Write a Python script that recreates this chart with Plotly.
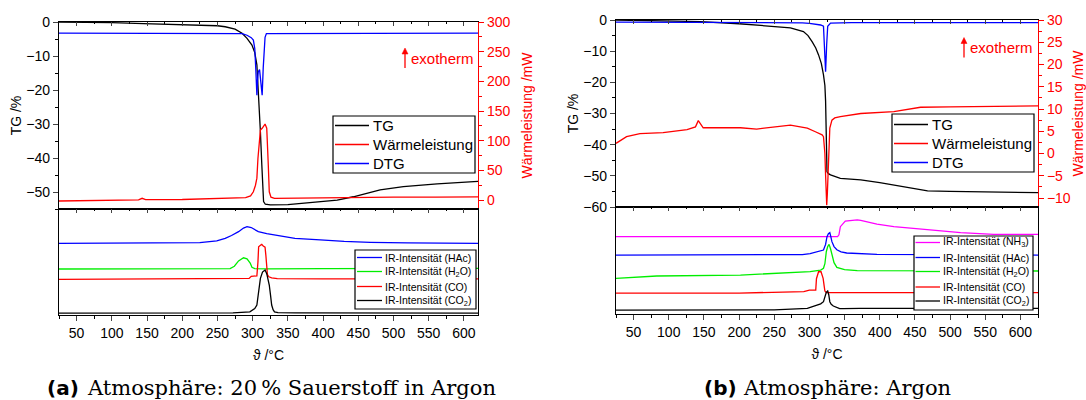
import plotly.graph_objects as go

# ---------------- (a) 20 % O2 in Ar : thermogravimetry ----------------
T_TG_A = [25, 50, 100, 145, 200, 250, 261, 275, 285, 292, 299, 303, 306, 308.5, 311, 313,
          315.5, 318, 325, 350, 372, 420, 443, 467, 481, 514, 562, 620]
TG_A = [0, -0.05, -0.2, -0.5, -0.7, -1.1, -1.4, -2.1, -3.3, -4.8, -6.8, -9.0, -12.6, -21, -32.3,
        -42, -52.8, -53.6, -53.8, -53.7, -53.3, -52.4, -51.4, -50.2, -49.4, -48.4, -47.6, -46.9]

T_HF_A = [25, 60, 100, 138, 143, 148, 200, 250, 275, 290, 297, 301, 304, 306, 307.5, 309, 311,
          313.5, 316, 317.6, 320, 321.2, 322.2, 323.6, 326, 331, 360, 400, 450, 500, 560, 620]
HF_A = [-1.5, -1.0, -0.5, 0.5, 3.0, 0.8, 1, 2, 2.8, 4, 7, 14, 25, 37, 70, 98, 118,
        121, 125, 128, 121, 95, 59, 14, 5, 3, 3.5, 4, 4.5, 5, 5, 5.5]

T_DTG_A = [25, 140, 144, 148, 250, 285, 292, 298, 301, 303, 304.5, 306, 307, 308, 309.8, 311,
           312, 313.5, 315, 317.6, 319.5, 350, 440, 460, 500, 620]
DTG_A = [-3.3, -3.3, -3.45, -3.3, -3.3, -3.4, -3.9, -4.6, -5.3, -7.8, -14, -21.5, -17, -14.6,
         -14, -16, -18, -21.5, -13.5, -4.5, -3.4, -3.4, -3.3, -3.2, -3.3, -3.3]

# (a) IR intensities (arbitrary units, stacked)
T_HAC_A = [25, 150, 225, 249, 261, 270, 280, 287, 292, 298, 308, 320, 332, 345, 360, 396, 430,
           467, 520, 620]
HAC_A = [67.6, 67.8, 68.2, 70, 72.3, 75, 78.6, 82, 83.3, 82.5, 78.6, 76.8, 75.5, 74, 72.3, 70.8,
         69.4, 68.6, 68, 67.6]

T_H2O_A = [25, 150, 268, 274, 280, 287, 292, 296.5, 299, 303, 320, 400, 620]
H2O_A = [43.4, 43.6, 43.8, 46, 51, 54, 53, 49, 45, 43.8, 43.6, 43.8, 44]

T_CO_A = [25, 150, 285, 295, 298, 306, 307.5, 308.5, 311.5, 313, 315, 317.6, 318.8, 319.8, 321,
          323, 327, 335, 400, 620]
CO_A = [33.7, 33.8, 34, 34.5, 36.5, 37, 50, 64.4, 66, 66.7, 65, 64, 56, 44, 38, 36, 35, 34.3,
        34, 34]

T_CO2_A = [25, 150, 272, 296, 303, 306, 308.5, 311, 314, 317.6, 320, 323.6, 325.5, 327, 329,
           331, 336, 360, 620]
CO2_A = [1.8, 1.8, 2, 3, 6, 9.4, 20, 34.6, 40.5, 42.5, 39, 28.3, 18, 9.4, 5, 3, 2.3, 2, 1.8]

# ---------------- (b) Ar : thermogravimetry ----------------
T_TG_B = [25, 100, 145, 200, 249, 273, 291.5, 298, 304, 309, 313, 317, 320, 322, 323, 324, 325,
          327, 330, 344, 373, 400, 420, 445, 468, 500, 539, 580, 625]
TG_B = [0, -0.2, -0.5, -1.2, -2.1, -2.5, -3.7, -5, -7, -9, -11.2, -14, -17.6, -21, -26, -38,
        -48.7, -49.3, -49.7, -50.8, -51.3, -52.2, -53, -54, -54.8, -55, -55.1, -55.3, -55.4]

T_HF_B = [25, 40, 59, 92, 126, 138, 142, 149, 202, 225, 273, 297, 308.5, 318, 320, 322, 323,
          324.6, 325.5, 326.5, 328, 329, 332, 336, 344, 358, 373, 420, 458, 500, 625]
HF_B = [2.3, 3.8, 4.5, 4.7, 5.4, 6.0, 7.4, 5.8, 5.8, 5.5, 6.4, 5.7, 4.9, 4.2, 3.8, 0, -4.8,
        -11.6, -9, -4.8, 2, 5.7, 7.5, 8, 8.3, 8.7, 9, 9.4, 10.4, 10.5, 10.7]

T_DTG_B = [25, 150, 250, 290, 300, 310, 316, 320, 321.5, 323, 324.5, 326, 330, 360, 450, 625]
DTG_B = [-0.7, -0.75, -0.8, -0.9, -1.1, -1.4, -1.6, -2, -8, -16.6, -8, -2, -1, -0.85, -0.85,
         -0.85]

# (b) IR intensities (arbitrary units, stacked)
T_NH3_B = [25, 200, 340, 342, 344, 351, 358, 368, 373, 396, 420, 468, 515, 562, 625]
NH3_B = [72.3, 72.3, 72.3, 74, 81.6, 86.9, 87.5, 87.9, 87.5, 84, 81.6, 79.1, 76, 74.5, 74.5]

T_HAC_B = [25, 200, 290, 301, 306, 316, 320, 323, 325, 327, 329, 330.5, 332, 335, 339, 345,
           353, 396, 625]
HAC_B = [55.1, 55.1, 55.5, 56.5, 57.5, 58.8, 59.8, 65, 72.3, 75, 76, 72, 67.6, 63, 60, 58, 57,
         55.8, 55.1]

T_H2O_B = [25, 83, 202, 287, 301, 316, 320, 322, 324, 326, 328, 330, 332, 335, 339, 350, 368,
           625]
H2O_B = [33.3, 35.5, 36.4, 38.6, 39.6, 41.1, 42.7, 47, 58.2, 63, 65.1, 61, 55, 48, 43.6, 41.5,
         40.5, 40.2]

T_CO_B = [25, 200, 292, 300, 306, 309, 310, 311.5, 313, 316.5, 318, 319.5, 321, 322, 324, 625]
CO_B = [19.5, 19.6, 20.9, 22.4, 22.4, 22.4, 33, 37, 39.5, 39.5, 37, 33.3, 26, 21.5, 20.1, 20.0]

T_CO2_B = [25, 150, 250, 297, 305, 311, 316, 320, 322, 324, 326, 327.5, 329, 331, 334, 337, 343,
           348, 372, 625]
CO2_B = [3.7, 3.7, 3.9, 5.3, 7, 8.4, 9.5, 11.5, 15, 20.3, 21.5, 18, 11.5, 9, 7.5, 6.5, 5, 5,
         5.3, 5.3]

X_TICKS = [50, 100, 150, 200, 250, 300, 350, 400, 450, 500, 550, 600]

NAME_TG = "TG"
NAME_HF = "Wärmeleistung"
NAME_DTG = "DTG"
IR = "IR-Intensität"
NAME_NH3 = f"{IR} (NH<sub>3</sub>)"
NAME_HAC = f"{IR} (HAc)"
NAME_H2O = f"{IR} (H<sub>2</sub>O)"
NAME_CO = f"{IR} (CO)"
NAME_CO2 = f"{IR} (CO<sub>2</sub>)"

BLACK, RED, BLUE, GREEN, MAGENTA = "#000000", "#ff0000", "#0000ff", "#00ee00", "#ff00ff"

W, H = 1086, 400
SANS = "Liberation Sans, Arial, sans-serif"


def fx(p):
    return p / W


def fy(p):
    return 1 - p / H


fig = go.Figure()


def line(x, y, color, xa, ya, name):
    fig.add_trace(go.Scatter(x=x, y=y, mode="lines", name=name, showlegend=False,
                             line=dict(color=color, width=1.3), xaxis=xa, yaxis=ya,
                             hoverinfo="skip"))


# panel (a)
line(T_TG_A, TG_A, BLACK, "x", "y", NAME_TG)
line(T_DTG_A, DTG_A, BLUE, "x", "y", NAME_DTG)
line(T_HF_A, HF_A, RED, "x", "y2", NAME_HF)
line(T_HAC_A, HAC_A, BLUE, "x2", "y3", NAME_HAC)
line(T_H2O_A, H2O_A, GREEN, "x2", "y3", NAME_H2O)
line(T_CO_A, CO_A, RED, "x2", "y3", NAME_CO)
line(T_CO2_A, CO2_A, BLACK, "x2", "y3", NAME_CO2)
# panel (b)
line(T_TG_B, TG_B, BLACK, "x3", "y4", NAME_TG)
line(T_DTG_B, DTG_B, BLUE, "x3", "y4", NAME_DTG)
line(T_HF_B, HF_B, RED, "x3", "y5", NAME_HF)
line(T_NH3_B, NH3_B, MAGENTA, "x4", "y6", NAME_NH3)
line(T_HAC_B, HAC_B, BLUE, "x4", "y6", NAME_HAC)
line(T_H2O_B, H2O_B, GREEN, "x4", "y6", NAME_H2O)
line(T_CO_B, CO_B, RED, "x4", "y6", NAME_CO)
line(T_CO2_B, CO2_B, BLACK, "x4", "y6", NAME_CO2)
# empty traces carrying the inner tick rows on top of the IR plots
fig.add_trace(go.Scatter(x=[None], y=[None], xaxis="x5", yaxis="y3", showlegend=False))
fig.add_trace(go.Scatter(x=[None], y=[None], xaxis="x6", yaxis="y6", showlegend=False))

AX = dict(showgrid=False, zeroline=False, showline=True, linewidth=1.2, automargin=False,
          tickfont=dict(family=SANS, size=14, color="black"), tickwidth=1)


def top_x(dom, rng, anchor, overlay=None):
    d = dict(AX, domain=dom, range=rng, anchor=anchor, side="top", ticks="inside", ticklen=4,
             tickvals=X_TICKS, showticklabels=False, linecolor="black",
             minor=dict(ticks="inside", ticklen=2, dtick=25, tick0=0, tickcolor="black"))
    if overlay:
        d.update(overlaying=overlay, showline=False)
    else:
        d.update(mirror=True)
    return d


def bottom_x(dom, rng, anchor):
    return dict(AX, domain=dom, range=rng, anchor=anchor, ticks="outside", ticklen=5,
                tickvals=X_TICKS, linecolor="black", mirror=True,
                minor=dict(ticks="outside", ticklen=3, dtick=25, tick0=0, tickcolor="black"),
                title=dict(text="ϑ /°C", font=dict(family=SANS, size=14, color="black"),
                           standoff=10))


def tg_y(dom, rng, anchor):
    return dict(AX, domain=dom, range=rng, anchor=anchor, ticks="outside", ticklen=5, dtick=10,
                tick0=0, linecolor="black",
                minor=dict(ticks="outside", ticklen=3, dtick=5, tickcolor="black"),
                title=dict(text="TG /%", font=dict(family=SANS, size=14, color="black")))


def hf_y(rng, anchor, over, dt):
    return dict(AX, range=rng, anchor=anchor, overlaying=over, side="right", ticks="outside",
                ticklen=5, dtick=dt, tick0=0, linecolor=RED, tickcolor=RED,
                tickfont=dict(family=SANS, size=14, color=RED),
                minor=dict(ticks="outside", ticklen=3, dtick=dt / 2, tick0=0, tickcolor=RED),
                title=dict(text="Wärmeleistung /mW", font=dict(family=SANS, size=14, color=RED),
                           standoff=12))


def ir_y(dom, anchor):
    return dict(AX, domain=dom, range=[0, 100], anchor=anchor, showticklabels=False, ticks="",
                linecolor="black", mirror=True)


DOM_A = [fx(59), fx(478)]
DOM_B = [fx(616), fx(1038)]
RNG_A = [25, 620]
RNG_B = [25, 625]

fig.update_layout(
    width=W, height=H, margin=dict(l=0, r=0, t=0, b=0), template="none",
    paper_bgcolor="white", plot_bgcolor="rgba(0,0,0,0)", showlegend=False,
    font=dict(family=SANS, size=14, color="black"),
    xaxis=top_x(DOM_A, RNG_A, "y"),
    yaxis=tg_y([fy(209), fy(22)], [-55, 0], "x"),
    yaxis2=hf_y([-15, 300], "x", "y", 50),
    xaxis2=bottom_x(DOM_A, RNG_A, "y3"),
    yaxis3=ir_y([fy(315), fy(209)], "x2"),
    xaxis5=top_x(DOM_A, RNG_A, "y3", overlay="x2"),
    xaxis3=top_x(DOM_B, RNG_B, "y4"),
    yaxis4=tg_y([fy(207), fy(20)], [-60, 0], "x3"),
    yaxis5=hf_y([-12, 30], "x3", "y4", 5),
    xaxis4=bottom_x(DOM_B, RNG_B, "y6"),
    yaxis6=ir_y([fy(314), fy(207)], "x4"),
    xaxis6=top_x(DOM_B, RNG_B, "y6", overlay="x4"),
)

shapes, annotations = [], []


def legend_box(x0, x1, y0, y1, entries, rows, line_x, text_x, size):
    shapes.append(dict(type="rect", xref="paper", yref="paper", x0=fx(x0), x1=fx(x1),
                       y0=fy(y1), y1=fy(y0), line=dict(color="black", width=1.2),
                       fillcolor="white", layer="above"))
    for (name, color), yr in zip(entries, rows):
        shapes.append(dict(type="line", xref="paper", yref="paper", x0=fx(line_x[0]),
                           x1=fx(line_x[1]), y0=fy(yr), y1=fy(yr),
                           line=dict(color=color, width=1.3), layer="above"))
        annotations.append(dict(xref="paper", yref="paper", x=fx(text_x), y=fy(yr), text=name,
                                showarrow=False, xanchor="left", yanchor="middle",
                                font=dict(family=SANS, size=size, color="black")))


legend_box(333, 475, 116, 173, [(NAME_TG, BLACK), (NAME_HF, RED), (NAME_DTG, BLUE)],
           [125.5, 144.5, 163.5], (335, 369), 371, 15)
legend_box(355, 476, 250, 309, [(NAME_HAC, BLUE), (NAME_H2O, GREEN), (NAME_CO, RED),
                                (NAME_CO2, BLACK)],
           [257.5, 271.5, 286.5, 300.5], (357, 382), 382.5, 10.5)
legend_box(892, 1034, 114, 172, [(NAME_TG, BLACK), (NAME_HF, RED), (NAME_DTG, BLUE)],
           [124.5, 143.5, 162.5], (894, 928), 930, 15)
legend_box(914, 1033, 236, 310, [(NAME_NH3, MAGENTA), (NAME_HAC, BLUE), (NAME_H2O, GREEN),
                                 (NAME_CO, RED), (NAME_CO2, BLACK)],
           [242.5, 257.5, 271.5, 287, 301], (915.5, 940), 941, 10.5)

# "exotherm" markers: thin upward arrow (shaft + head) and label
for ax_x, y_top, txt_x in [(405, 48, 409), (964, 37.5, 968)]:
    shapes.append(dict(type="line", xref="paper", yref="paper", x0=fx(ax_x), x1=fx(ax_x),
                       y0=fy(y_top + 20), y1=fy(y_top + 4), line=dict(color=RED, width=1.3)))
    shapes.append(dict(type="path", xref="paper", yref="paper",
                       path=f"M {fx(ax_x - 3)} {fy(y_top + 6)} L {fx(ax_x)} {fy(y_top)} "
                            f"L {fx(ax_x + 3)} {fy(y_top + 6)} Z",
                       fillcolor=RED, line=dict(color=RED, width=0.5)))
    annotations.append(dict(xref="paper", yref="paper", x=fx(txt_x), y=fy(y_top + 10),
                            text="exotherm", showarrow=False, xanchor="left", yanchor="middle",
                            font=dict(family=SANS, size=15, color=RED)))

# sub-figure captions
for lab_x, txt_x, lab, txt in [(45, 85, "(a)", "Atmosphäre: 20\u2009% Sauerstoff in Argon"),
                               (702, 741, "(b)", "Atmosphäre: Argon")]:
    annotations.append(dict(xref="paper", yref="paper", x=fx(lab_x), y=fy(388),
                            text=f"<b>{lab}</b>", showarrow=False, xanchor="left",
                            yanchor="middle",
                            font=dict(family="DejaVu Sans", size=20, color="black")))
    annotations.append(dict(xref="paper", yref="paper", x=fx(txt_x), y=fy(388), text=txt,
                            showarrow=False, xanchor="left", yanchor="middle",
                            font=dict(family="DejaVu Serif", size=21, color="black")))

fig.update_layout(shapes=shapes, annotations=annotations)
fig.write_html("out.html")
